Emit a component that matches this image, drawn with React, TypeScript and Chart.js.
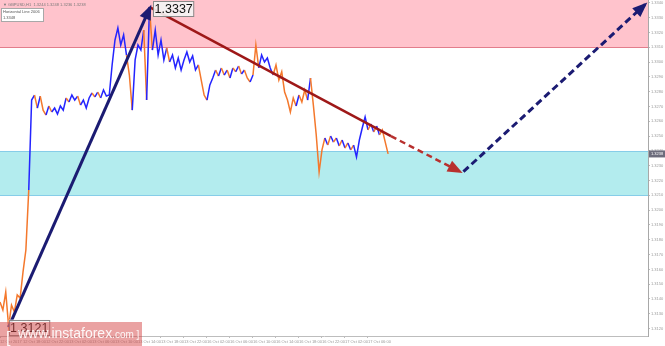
import React, { useEffect, useRef } from "react";
import { Chart, registerables } from "chart.js";
Chart.register(...registerables);

// ---------- data ----------
const timeLabels = [
  "12 Oct 2017", "12 Oct 18:00", "12 Oct 22:00", "13 Oct 02:00", "13 Oct 06:00",
  "13 Oct 10:00", "13 Oct 14:00", "13 Oct 18:00", "13 Oct 22:00", "16 Oct 02:00",
  "16 Oct 06:00", "16 Oct 10:00", "16 Oct 14:00", "16 Oct 18:00", "16 Oct 22:00",
  "17 Oct 02:00", "17 Oct 06:00",
];
const LABEL_STEP_HOURS = 4;
const PRICE_STEP_HOURS = 0.5;

const prices = [
  1.31379, 1.31325, 1.31447, 1.31214, 1.31359, 1.31312, 1.31427, 1.31406, 1.31582, 1.31731,
  1.32136, 1.32744, 1.32778, 1.3269, 1.32771, 1.32676, 1.32643, 1.32704, 1.32663, 1.3269,
  1.3265, 1.32704, 1.32676, 1.32758, 1.32731, 1.32778, 1.32744, 1.32771, 1.3271, 1.32744,
  1.3269, 1.32758, 1.32792, 1.32765, 1.32798, 1.32758, 1.32812, 1.32771, 1.32778, 1.32981,
  1.3315, 1.33231, 1.33116, 1.33184, 1.33048, 1.32913, 1.32676, 1.33015, 1.33116, 1.33082,
  1.33217, 1.32744, 1.3337, 1.33082, 1.33217, 1.33048, 1.3315, 1.33015, 1.33096, 1.33001,
  1.33048, 1.32961, 1.33028, 1.32947, 1.33015, 1.33069, 1.33001, 1.33042, 1.32947, 1.32981,
  1.32879, 1.32778, 1.32744, 1.32846, 1.32893, 1.32947, 1.32906, 1.32961, 1.32913, 1.32947,
  1.32893, 1.32961, 1.32935, 1.32974, 1.3292, 1.32947, 1.32893, 1.32866, 1.32913, 1.33116,
  1.32961, 1.33048, 1.33001, 1.33028, 1.32961, 1.32913, 1.32981, 1.32879, 1.32935, 1.32798,
  1.32744, 1.32663, 1.32758, 1.32704, 1.32778, 1.32731, 1.32812, 1.32744, 1.32893, 1.3271,
  1.32508, 1.32258, 1.32407, 1.32488, 1.3244, 1.32501, 1.3246, 1.32488, 1.32434, 1.32474,
  1.3242, 1.32454, 1.32407, 1.3244, 1.32359, 1.32474, 1.32555, 1.3263, 1.32542, 1.32582,
  1.32528, 1.32569, 1.32508, 1.32542, 1.3246, 1.3238,
];
// bar type per point: u = bullish bar, d = bearish bar
const barTypes = (
  "dddddddddd" + "duududdudu" + "uuuuduuudu" + "uuududuuuu" + "uuuuudduuu" +
  "ududuuuuud" + "uuuuuuuuuu" + "ddduuududu" + "dudududdud" + "duuuuudddd" +
  "ddddudddud" + "ddddududud" + "ududuuuuud" + "ududdd"
).split("");

const priceTicks = [
  1.312, 1.313, 1.314, 1.315, 1.316, 1.317, 1.318, 1.319, 1.32, 1.321, 1.322, 1.323,
  1.324, 1.325, 1.326, 1.327, 1.328, 1.329, 1.33, 1.331, 1.332, 1.333, 1.334,
];
const resistanceZone = [1.331, 1.335];
const supportZone = [1.321, 1.324];
const horizontalLinePrice = 1.3348;

const waveUpTimes = [1.5, 26.1];
const waveUpPrices = [1.3121, 1.3337];
const waveDownTimes = [26.1, 68];
const waveDownPrices = [1.3337, 1.325];
const forecastDownTimes = [68, 80];
const forecastDownPrices = [1.325, 1.3226];
const forecastUpTimes = [80.6, 112.2];
const forecastUpPrices = [1.3226, 1.3339];

const symbolHeader = "\u25BC GBPUSD,H1  1.3244 1.3248 1.3236 1.3238";

// ---------- styles ----------
const FONT = "'Liberation Sans', Arial, sans-serif";
const BLUE = "#2424ff";
const ORANGE = "#f4782c";
const NAVY = "#1b1b72";
const DARKRED = "#9e1818";
const RED_DASH = "#b8302e";

const pts = (ts: number[], ps: number[]) => ts.map((t, i) => ({ x: t, y: ps[i] }));

function drawHead(ctx: CanvasRenderingContext2D, x0: number, y0: number, x1: number, y1: number, color: string) {
  const ang = Math.atan2(y1 - y0, x1 - x0);
  ctx.save();
  ctx.translate(x1, y1);
  ctx.rotate(ang);
  ctx.fillStyle = color;
  ctx.beginPath();
  ctx.moveTo(3, 0);
  ctx.lineTo(-12, -6);
  ctx.lineTo(-12, 6);
  ctx.closePath();
  ctx.fill();
  ctx.restore();
}

const zonesPlugin = {
  id: "zones",
  beforeDatasetsDraw(chart: any) {
    const { ctx, chartArea: a, scales } = chart;
    const y = scales.y;
    ctx.save();
    ctx.beginPath();
    ctx.rect(a.left, a.top, a.width, a.height);
    ctx.clip();
    const r0 = y.getPixelForValue(resistanceZone[1]);
    const r1 = y.getPixelForValue(resistanceZone[0]);
    ctx.fillStyle = "#ffc3cc";
    ctx.fillRect(a.left, r0, a.width, r1 - r0);
    ctx.strokeStyle = "#e27d8b";
    ctx.lineWidth = 1;
    ctx.beginPath();
    ctx.moveTo(a.left, Math.round(r1) + 0.5);
    ctx.lineTo(a.right, Math.round(r1) + 0.5);
    ctx.stroke();
    const s0 = y.getPixelForValue(supportZone[1]);
    const s1 = y.getPixelForValue(supportZone[0]);
    ctx.fillStyle = "#b3ecee";
    ctx.fillRect(a.left, s0, a.width, s1 - s0);
    ctx.strokeStyle = "#86cde8";
    ctx.beginPath();
    ctx.moveTo(a.left, Math.round(s0) + 0.5);
    ctx.lineTo(a.right, Math.round(s0) + 0.5);
    ctx.moveTo(a.left, Math.round(s1) + 0.5);
    ctx.lineTo(a.right, Math.round(s1) + 0.5);
    ctx.stroke();
    ctx.restore();
  },
};

function priceBox(ctx: CanvasRenderingContext2D, text: string, x: number, yc: number) {
  ctx.save();
  ctx.font = `12.5px ${FONT}`;
  const w = ctx.measureText(text).width + 2;
  const h = 15;
  const top = Math.max(1, yc - h / 2);
  ctx.fillStyle = "rgba(245,245,245,0.9)";
  ctx.fillRect(x, top, w, h);
  ctx.strokeStyle = "#8a8a8a";
  ctx.lineWidth = 1;
  ctx.strokeRect(Math.round(x) + 0.5, Math.round(top) + 0.5, w, h);
  ctx.fillStyle = "#111";
  ctx.textBaseline = "middle";
  ctx.fillText(text, x + 1.5, top + h / 2 + 1);
  ctx.restore();
}

const overlayPlugin = {
  id: "overlay",
  afterDatasetsDraw(chart: any) {
    const { ctx } = chart;
    chart.data.datasets.forEach((ds: any, i: number) => {
      if (!ds.arrowHead) return;
      const els = chart.getDatasetMeta(i).data;
      const a = els[els.length - 2];
      const b = els[els.length - 1];
      drawHead(ctx, a.x, a.y, b.x, b.y, ds.headColor || ds.borderColor);
    });
    const { x, y } = chart.scales;
    priceBox(ctx, waveUpPrices[1].toFixed(4), x.getPixelForValue(waveUpTimes[1]) + 3, y.getPixelForValue(waveUpPrices[1]));
    priceBox(ctx, waveUpPrices[0].toFixed(4), x.getPixelForValue(waveUpTimes[0]), y.getPixelForValue(waveUpPrices[0]));
  },
  afterDraw(chart: any) {
    const { ctx, chartArea: a, scales } = chart;
    const y = scales.y;
    ctx.save();
    // header
    ctx.font = `4px ${FONT}`;
    ctx.fillStyle = "#7a7a7a";
    ctx.textBaseline = "top";
    ctx.fillText(symbolHeader, 3, 3);
    // horizontal line object label
    ctx.fillStyle = "#ffffff";
    ctx.fillRect(1, 8, 42, 13);
    ctx.strokeStyle = "#a8a8a8";
    ctx.strokeRect(1.5, 8.5, 42, 13);
    ctx.fillStyle = "#555";
    ctx.fillText("Horizontal Line 2006", 3, 10);
    ctx.fillText(horizontalLinePrice.toFixed(4), 3, 15.5);
    // current price on axis
    const last = prices[prices.length - 1];
    const py = y.getPixelForValue(last);
    ctx.fillStyle = "#6c6c7c";
    ctx.fillRect(a.right + 1, py - 3.5, 16, 7);
    ctx.fillStyle = "#fff";
    ctx.textBaseline = "middle";
    ctx.fillText(last.toFixed(4), a.right + 3, py);
    // watermark
    ctx.fillStyle = "rgba(214,70,70,0.5)";
    ctx.fillRect(0, 322, 142, 24);
    ctx.fillStyle = "rgba(255,255,255,0.92)";
    ctx.textBaseline = "alphabetic";
    ctx.font = `16px ${FONT}`;
    ctx.fillText("[", 6, 343);
    ctx.font = `14px ${FONT}`;
    ctx.fillText("www.instaforex", 18, 338);
    const w = ctx.measureText("www.instaforex").width;
    ctx.font = `10px ${FONT}`;
    ctx.fillText(".com ]", 18 + w, 338);
    ctx.restore();
  },
};

export default function App() {
  const ref = useRef<HTMLCanvasElement>(null);
  useEffect(() => {
    document.body.style.margin = "0";
    const canvas = ref.current;
    if (!canvas) return;
    const axisGrid = { display: true, drawOnChartArea: false, drawTicks: true, tickLength: 2, color: "#bdbdbd" };
    const chart = new Chart(canvas, {
      type: "line",
      data: {
        datasets: [
          {
            data: pts(forecastUpTimes, forecastUpPrices),
            borderColor: NAVY, borderWidth: 3, borderDash: [7, 4], pointRadius: 0,
            order: 0, arrowHead: true,
          } as any,
          {
            data: pts(forecastDownTimes, forecastDownPrices),
            borderColor: RED_DASH, borderWidth: 2.5, borderDash: [6, 4], pointRadius: 0,
            order: 0, arrowHead: true,
          } as any,
          {
            data: pts(waveDownTimes, waveDownPrices),
            borderColor: DARKRED, borderWidth: 2.5, pointRadius: 0, order: 0,
          } as any,
          {
            data: pts(waveUpTimes, waveUpPrices),
            borderColor: NAVY, borderWidth: 3, pointRadius: 0, order: 0,
            arrowHead: true,
          } as any,
          {
            data: prices.map((p, i) => ({ x: i * PRICE_STEP_HOURS, y: p })),
            borderColor: BLUE,
            borderWidth: 1.5,
            pointRadius: 0,
            order: 1,
            segment: {
              borderColor: (c: any) => (barTypes[c.p1DataIndex] === "u" ? BLUE : ORANGE),
            },
          } as any,
        ],
      },
      options: {
        responsive: false,
        animation: false,
        devicePixelRatio: 1,
        layout: { padding: 0 },
        plugins: { legend: { display: false }, tooltip: { enabled: false } },
        scales: {
          x: {
            type: "linear",
            min: 0,
            max: 112.7,
            afterBuildTicks: (axis: any) => {
              axis.ticks = timeLabels.map((_, i) => ({ value: i * LABEL_STEP_HOURS }));
            },
            afterFit: (axis: any) => {
              axis.height = 10;
              axis.paddingLeft = 0;
              axis.paddingRight = 0;
            },
            ticks: {
              autoSkip: false,
              maxRotation: 0,
              minRotation: 0,
              align: "start",
              padding: 1,
              color: "#9a9a9a",
              font: { size: 4, family: FONT },
              callback: (v: any) => timeLabels[Math.round(Number(v) / LABEL_STEP_HOURS)] ?? "",
            },
            grid: axisGrid,
            border: { display: true, color: "#bdbdbd" },
          },
          y: {
            type: "linear",
            position: "right",
            min: 1.3115,
            max: 1.3342,
            afterBuildTicks: (axis: any) => {
              axis.ticks = priceTicks.map((v) => ({ value: v }));
            },
            afterFit: (axis: any) => {
              axis.width = 17;
              axis.paddingTop = 0;
              axis.paddingBottom = 0;
            },
            ticks: {
              padding: 1,
              color: "#9a9a9a",
              font: { size: 4, family: FONT },
              callback: (v: any) => Number(v).toFixed(4),
            },
            grid: axisGrid,
            border: { display: true, color: "#a8a8a8" },
          },
        },
      } as any,
      plugins: [zonesPlugin, overlayPlugin],
    });
    return () => chart.destroy();
  }, []);
  return (
    <div style={{ width: 665, height: 346, background: "#fff" }}>
      <canvas ref={ref} width={665} height={346} style={{ display: "block", width: 665, height: 346 }} />
    </div>
  );
}
